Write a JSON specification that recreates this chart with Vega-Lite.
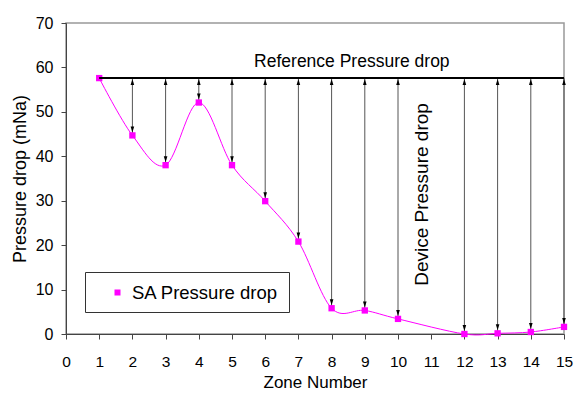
{
  "$schema": "https://vega.github.io/schema/vega-lite/v6.json",
  "width": 498,
  "height": 311,
  "autosize": {"type": "none"},
  "padding": {"left": 66, "top": 23, "right": 12, "bottom": 67},
  "background": "white",
  "config": {
    "font": "Liberation Sans",
    "view": {"stroke": "#999999", "strokeWidth": 1.5},
    "point": {"shape": "square"},
    "axis": {
      "grid": false,
      "domainColor": "#444444",
      "tickColor": "#444444",
      "tickSize": 5,
      "labelColor": "black",
      "labelFontSize": 16,
      "titleColor": "black",
      "titleFontWeight": "normal"
    },
    "axisX": {"labelOverlap": false, "labelFontSize": 15.5},
    "legend": {
      "orient": "none",
      "legendX": 19,
      "legendY": 249,
      "strokeColor": "#333333",
      "fillColor": "white",
      "padding": 10,
      "labelFontSize": 18.5,
      "labelColor": "black",
      "symbolSize": 400,
      "symbolStrokeWidth": 1,
      "symbolOffset": 12,
      "labelOffset": 4
    }
  },
  "datasets": {
    "sa": [
      {"zone": 1, "value": 57.6, "series": "SA Pressure drop"},
      {"zone": 2, "value": 44.7, "series": "SA Pressure drop"},
      {"zone": 3, "value": 38.0, "series": "SA Pressure drop"},
      {"zone": 4, "value": 52.1, "series": "SA Pressure drop"},
      {"zone": 5, "value": 38.0, "series": "SA Pressure drop"},
      {"zone": 6, "value": 29.9, "series": "SA Pressure drop"},
      {"zone": 7, "value": 20.8, "series": "SA Pressure drop"},
      {"zone": 8, "value": 5.8, "series": "SA Pressure drop"},
      {"zone": 9, "value": 5.3, "series": "SA Pressure drop"},
      {"zone": 10, "value": 3.4, "series": "SA Pressure drop"},
      {"zone": 12, "value": 0.0, "series": "SA Pressure drop"},
      {"zone": 13, "value": 0.15, "series": "SA Pressure drop"},
      {"zone": 14, "value": 0.45, "series": "SA Pressure drop"},
      {"zone": 15, "value": 1.6, "series": "SA Pressure drop"}
    ],
    "refline": [{"zone": 1, "zoneEnd": 15, "value": 57.6}],
    "refnote": [{"zone": 8.61, "value": 60.2, "label": "Reference Pressure drop"}],
    "devnote": [{"zone": 10.9, "value": 31.4, "label": "Device Pressure drop"}]
  },
  "encoding": {
    "x": {"field": "zone", "type": "quantitative",
          "scale": {"domain": [0, 15], "nice": false, "zero": false},
          "axis": {"values": [0,1,2,3,4,5,6,7,8,9,10,11,12,13,14,15], "labelOverlap": false, "labelSeparation": 0, "labelBound": false, "labelFlush": false, "labelPadding": 15, "title": "Zone Number", "titleFontSize": 17, "titlePadding": 5}},
    "y": {"field": "value", "type": "quantitative",
          "scale": {"domain": [0, 70], "nice": false},
          "axis": {"values": [0,10,20,30,40,50,60,70], "labelPadding": 8, "title": "Pressure drop (mNa)", "titleFontSize": 18, "titlePadding": 6}}
  },
  "layer": [
    {
      "data": {"name": "sa"},
      "transform": [{"filter": "datum.zone > 1"}],
      "mark": {"type": "rule", "color": "#555555", "strokeWidth": 1},
      "encoding": {
        "y2": {"datum": 57.6}
      }
    },
    {
      "data": {"name": "sa"},
      "mark": {"type": "line", "interpolate": "cardinal", "color": "#ff00ff", "strokeWidth": 1}
    },
    {
      "data": {"name": "sa"},
      "mark": {"type": "point", "filled": true, "size": 40, "opacity": 1},
      "encoding": {
        "color": {"field": "series", "type": "nominal", "scale": {"range": ["#ff00ff"]},
                  "legend": {"title": null, "symbolType": "M-1,0H1M-0.3,-0.3H0.3V0.3H-0.3Z",
                             "encode": {"symbols": {"size": {"value": 400}, "stroke": {"value": "#ff00ff"}, "fill": {"value": "#ff00ff"}, "strokeWidth": {"value": 1}, "opacity": {"value": 1}}}}}
      }
    },
    {
      "data": {"name": "sa"},
      "transform": [{"filter": "datum.zone > 1"}],
      "mark": {"type": "point", "shape": "M-0.6,-1L0.6,-1L0,1Z", "filled": true, "size": 36, "color": "black", "opacity": 1, "yOffset": -6}
    },
    {
      "data": {"name": "sa"},
      "transform": [{"filter": "datum.zone > 1"}],
      "mark": {"type": "point", "shape": "M-0.6,1L0.6,1L0,-1Z", "filled": true, "size": 36, "color": "black", "opacity": 1, "yOffset": 4},
      "encoding": {
        "y": {"datum": 57.6}
      }
    },
    {
      "data": {"name": "refline"},
      "mark": {"type": "rule", "color": "black", "strokeWidth": 2},
      "encoding": {
        "x2": {"field": "zoneEnd"}
      }
    },
    {
      "data": {"name": "refnote"},
      "mark": {"type": "text", "fontSize": 17.5, "align": "center", "baseline": "alphabetic", "color": "black"},
      "encoding": {
        "text": {"field": "label"}
      }
    },
    {
      "data": {"name": "devnote"},
      "mark": {"type": "text", "fontSize": 19, "align": "center", "baseline": "alphabetic", "angle": 270, "color": "black"},
      "encoding": {
        "text": {"field": "label"}
      }
    }
  ]
}
